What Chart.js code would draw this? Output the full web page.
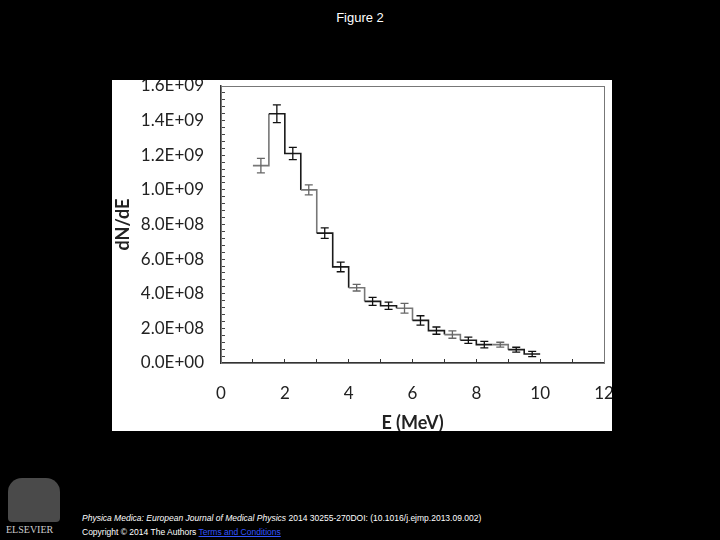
<!DOCTYPE html>
<html lang="en">

<head>
    <meta charset="UTF-8">
    <title>Figure 2</title>
    <style>
        body { margin: 0; width: 720px; height: 540px; background: #000; position: relative; overflow: hidden; font-family: "Liberation Sans", Arial, sans-serif; }
        .titulo { position: absolute; top: 10px; left: 0; width: 720px; text-align: center; color: #fff; font-size: 13px; }
        .quadro { position: absolute; left: 112px; top: 80px; width: 500px; height: 351px; background: #fff; }
        .logo { position: absolute; left: 8px; top: 478px; width: 52px; height: 44px; background: #4a4a4a; border-radius: 14px 14px 4px 4px; }
        .logo-texto { position: absolute; left: 6px; top: 524px; color: #ccc; font-family: "Liberation Serif", serif; font-size: 10px; }
        .rodape { position: absolute; left: 82px; color: #fff; font-size: 8.5px; white-space: nowrap; }
        .rodape a { color: #3355ff; }
    </style>
</head>

<body>
    <div class="titulo">Figure 2</div>
    <div class="quadro">
        <canvas id="myChart" width="500" height="351"></canvas>
    </div>
    <div class="logo"></div>
    <div class="logo-texto">ELSEVIER</div>
    <div class="rodape" style="top: 513px;"><i>Physica Medica: European Journal of Medical Physics</i> 2014 30255-270DOI: (10.1016/j.ejmp.2013.09.002)</div>
    <div class="rodape" style="top: 527px;">Copyright © 2014 The Authors <a href="#">Terms and Conditions</a></div>
</body>

</html>
<script src="https://cdn.jsdelivr.net/npm/chart.js@4.4.0/dist/chart.umd.min.js"></script>

<script>

    // bordas dos bins de energia (MeV) e valores dN/dE de cada bin
    const binEdges = [1.0, 1.5, 2.0, 2.5, 3.0, 3.5, 4.0, 4.5, 5.0, 5.5, 6.0, 6.5, 7.0, 7.5, 8.0, 8.5, 9.0, 9.5, 10.0];
    const dNdE = [1.14e9, 1.44e9, 1.21e9, 1.00e9, 7.50e8, 5.55e8, 4.35e8, 3.56e8, 3.31e8, 3.16e8, 2.46e8, 1.87e8, 1.64e8, 1.31e8, 1.06e8, 1.06e8, 7.7e7, 5.2e7];
    const dNdEerr = [4.2e7, 5.1e7, 3.5e7, 2.9e7, 3.0e7, 2.8e7, 1.9e7, 2.3e7, 2.1e7, 2.8e7, 2.7e7, 2.1e7, 2.1e7, 1.8e7, 1.9e7, 1.4e7, 1.4e7, 1.5e7];

    // marcas dos eixos
    const xLabelValues = [0, 2, 4, 6, 8, 10, 12];
    const yLabelValues = [0, 2e8, 4e8, 6e8, 8e8, 1.0e9, 1.2e9, 1.4e9, 1.6e9];

    function formatarExp(v) {
        if (v === 0) return '0.0E+00';
        let exp = Math.floor(Math.log10(v) + 1e-9);
        let mant = v / Math.pow(10, exp);
        return mant.toFixed(1) + 'E+' + String(exp).padStart(2, '0');
    }

    // pontos da linha em degraus: cada borda com o valor do bin que comeca nela
    // (a ultima borda repete o ultimo bin)
    let pontos = [];
    for (let i = 0; i < binEdges.length; i++) {
        pontos.push({ x: binEdges[i], y: dNdE[Math.min(i, dNdE.length - 1)] });
    }

    const corFonte = '#222';

    // barras de erro no centro de cada bin
    const barrasErro = {
        id: 'barrasErro',
        afterDatasetsDraw(chart) {
            const ctx = chart.ctx;
            const xs = chart.scales.x, ys = chart.scales.y;
            ctx.save();
            ctx.lineWidth = 1.3;
            for (let i = 0; i < dNdE.length; i++) {
                let cx = xs.getPixelForValue((binEdges[i] + binEdges[i + 1]) / 2);
                let y1 = ys.getPixelForValue(dNdE[i] + dNdEerr[i]);
                let y2 = ys.getPixelForValue(dNdE[i] - dNdEerr[i]);
                ctx.strokeStyle = (i % 3 === 0) ? '#666' : '#111';
                ctx.beginPath();
                ctx.moveTo(cx, y1); ctx.lineTo(cx, y2);
                ctx.moveTo(cx - 4, y1); ctx.lineTo(cx + 4, y1);
                ctx.moveTo(cx - 4, y2); ctx.lineTo(cx + 4, y2);
                ctx.stroke();
            }
            ctx.restore();
        }
    };

    // moldura da area do grafico
    const moldura = {
        id: 'moldura',
        beforeDatasetsDraw(chart) {
            const a = chart.chartArea;
            const ctx = chart.ctx;
            ctx.save();
            ctx.strokeStyle = '#777';
            ctx.lineWidth = 1;
            ctx.strokeRect(a.left + 0.5, a.top + 0.5, a.right - a.left, a.bottom - a.top);
            ctx.restore();
        }
    };

    new Chart(document.getElementById('myChart'), {
        type: 'line',
        data: {
            datasets: [{
                data: pontos,
                stepped: 'before',
                borderColor: '#1a1a1a',
                borderWidth: 1.6,
                pointRadius: 0,
                fill: false,
                segment: {
                    borderColor: c => (c.p0DataIndex % 3 === 0) ? '#777' : '#1a1a1a'
                }
            }]
        },
        options: {
            responsive: false,
            animation: false,
            layout: { padding: { top: 6, right: 8, left: 0, bottom: 0 } },
            plugins: {
                legend: { display: false },
                tooltip: { enabled: false }
            },
            scales: {
                x: {
                    type: 'linear',
                    min: 0,
                    max: 12,
                    afterFit: s => { s.height = 68; s.paddingLeft = 0; s.paddingRight = 0; },
                    border: { display: true, color: '#333', width: 1.5 },
                    grid: { drawOnChartArea: false, drawTicks: true, tickLength: -4, color: '#333' },
                    ticks: {
                        stepSize: 1,
                        autoSkip: false,
                        maxRotation: 0,
                        padding: 24,
                        color: corFonte,
                        font: { family: 'Lato', size: 17 },
                        callback: v => xLabelValues.includes(v) ? String(v) : ''
                    },
                    title: {
                        display: true,
                        text: 'E (MeV)',
                        color: corFonte,
                        padding: { top: 0, bottom: -3 },
                        font: { family: 'Lato', size: 18, weight: 'bold' }
                    }
                },
                y: {
                    min: 0,
                    max: 1.6e9,
                    afterFit: s => { s.width = 109; s.paddingTop = 0; s.paddingBottom = 0; },
                    border: { display: true, color: '#333', width: 1.5 },
                    grid: { drawOnChartArea: false, drawTicks: true, tickLength: -4, color: '#444' },
                    ticks: {
                        stepSize: 4e7,
                        maxTicksLimit: 60,
                        autoSkip: false,
                        padding: 21,
                        color: corFonte,
                        font: { family: 'Lato', size: 17 },
                        callback: v => {
                            let achou = yLabelValues.find(t => Math.abs(t - v) < 1);
                            return achou !== undefined ? formatarExp(achou) : '';
                        }
                    },
                    title: {
                        display: true,
                        text: 'dN/dE',
                        color: corFonte,
                        padding: { top: 0, bottom: 0 },
                        font: { family: 'Lato', size: 18, weight: 'bold' }
                    }
                }
            }
        },
        plugins: [moldura, barrasErro]
    });

</script>
